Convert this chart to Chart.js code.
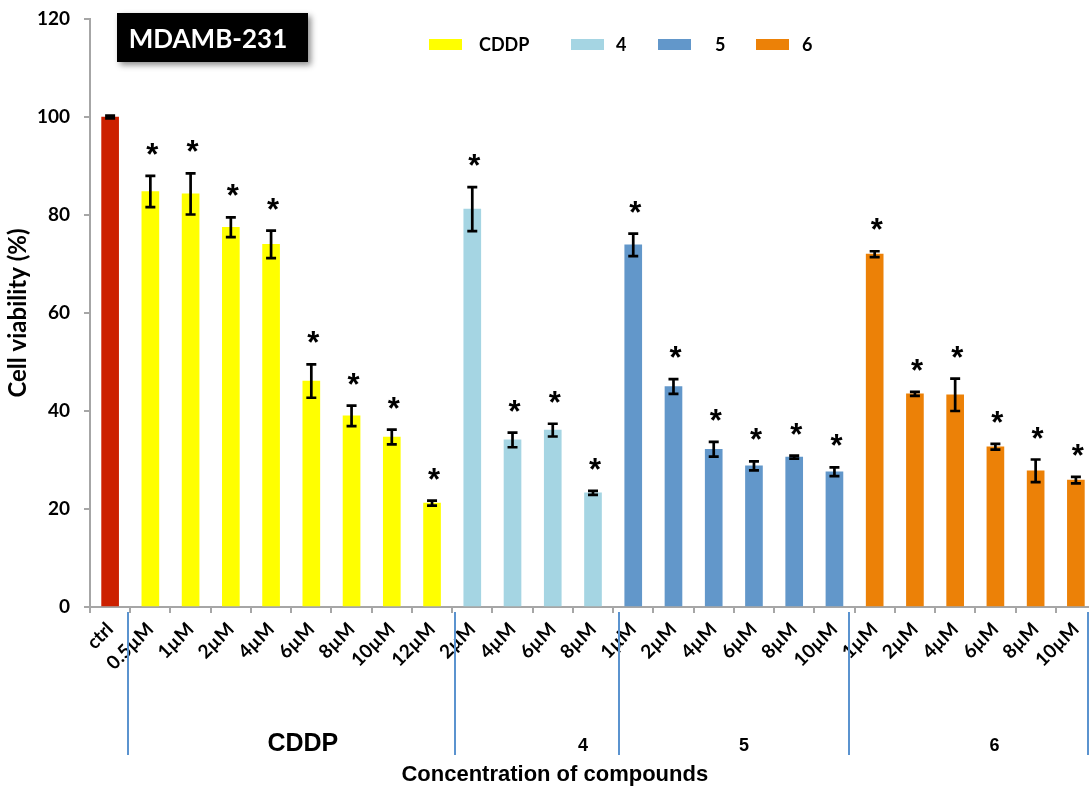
<!DOCTYPE html>
<html><head><meta charset="utf-8">
<script src="https://cdn.jsdelivr.net/npm/chart.js@4/dist/chart.umd.min.js"></script>
<style>
html,body{margin:0;padding:0;overflow:hidden;background:#fff;width:1089px;height:790px}
#wrap{width:1100px;height:790px;position:relative}
</style>
</head><body><div id="wrap"><canvas id="c"></canvas></div>
<script>
// ---- data ----
const categories = ['ctrl','0.5µM','1µM','2µM','4µM','6µM','8µM','10µM','12µM',
  '2µM','4µM','6µM','8µM',
  '1µM','2µM','4µM','6µM','8µM','10µM',
  '1µM','2µM','4µM','6µM','8µM','10µM'];
const ctrlValues = [100];
const ctrlErr    = [0.3];
const cddpValues = [84.8, 84.3, 77.5, 74.0, 46.1, 39.0, 34.7, 21.2];
const cddpErr    = [3.2, 4.2, 2.0, 2.8, 3.4, 2.1, 1.5, 0.5];
const c4Values   = [81.2, 34.1, 36.1, 23.3];
const c4Err      = [4.5, 1.5, 1.3, 0.4];
const c5Values   = [73.9, 45.0, 32.2, 28.8, 30.6, 27.6];
const c5Err      = [2.3, 1.5, 1.5, 0.9, 0.3, 0.9];
const c6Values   = [72.0, 43.5, 43.3, 32.7, 27.8, 25.9];
const c6Err      = [0.6, 0.4, 3.3, 0.6, 2.3, 0.65];
const groupNames = ['CDDP','4','5','6'];
const groupLabelPos = [4.79, 11.75, 15.75, 21.98];   // in category units
const separatorPos  = [0.44, 8.57, 12.64, 18.36, 24.3]; // in category units
const yTickStep = 20, yMax = 120;
const chartTitle = 'MDAMB-231';
const yTitle = 'Cell viability (%)';
const xTitle = 'Concentration of compounds';

// ---- build datasets ----
const groups = [
  {label:'ctrl', values:ctrlValues, err:ctrlErr, color:'#CC2000', legend:false, star:false},
  {label:'CDDP', values:cddpValues, err:cddpErr, color:'#FFFF00', legend:true, star:true},
  {label:'4', values:c4Values, err:c4Err, color:'#A5D5E3', legend:true, star:true},
  {label:'5', values:c5Values, err:c5Err, color:'#6297CA', legend:true, star:true},
  {label:'6', values:c6Values, err:c6Err, color:'#EC8107', legend:true, star:true}
];
let off = 0;
groups.forEach(g => { g.start = off; off += g.values.length; });
const spread = (g, arr) => categories.map((_, i) => (i >= g.start && i < g.start + arr.length) ? arr[i - g.start] : null);
const datasets = groups.map(g => ({
  label: g.label,
  data: spread(g, g.values),
  errors: spread(g, g.err),
  star: g.star,
  showInLegend: g.legend,
  backgroundColor: g.color,
  borderWidth: 0,
  grouped: false,
  barThickness: 17
}));

const FONT = 'Lato';

const annotations = {
  id: 'annotations',
  afterDatasetsDraw(chart) {
    const ctx = chart.ctx, y = chart.scales.y;
    ctx.save();
    chart.data.datasets.forEach((ds, di) => {
      const meta = chart.getDatasetMeta(di);
      meta.data.forEach((el, i) => {
        const v = ds.data[i];
        if (v === null || v === undefined) return;
        const e = ds.errors[i];
        const yt = y.getPixelForValue(v + e), yb = y.getPixelForValue(v - e);
        const x = el.x;
        ctx.strokeStyle = '#000';
        ctx.lineWidth = 2.7;
        ctx.beginPath();
        ctx.moveTo(x, yt); ctx.lineTo(x, yb);
        ctx.moveTo(x - 5, yt); ctx.lineTo(x + 5, yt);
        ctx.moveTo(x - 5, yb); ctx.lineTo(x + 5, yb);
        ctx.stroke();
        if (ds.star) {
          ctx.font = 'bold 31px "Liberation Sans"';
          ctx.fillStyle = '#000';
          ctx.textAlign = 'center';
          ctx.textBaseline = 'alphabetic';
          const m = ctx.measureText('*');
          const h = m.actualBoundingBoxAscent - m.actualBoundingBoxDescent;
          const cy = yt - 17;
          ctx.fillText('*', x + 2, cy + m.actualBoundingBoxAscent - h / 2);
        }
      });
    });
    ctx.restore();
  },
  afterDraw(chart) {
    const ctx = chart.ctx, xs = chart.scales.x;
    ctx.save();
    // title box
    ctx.shadowColor = 'rgba(0,0,0,0.45)';
    ctx.shadowBlur = 6; ctx.shadowOffsetX = 3; ctx.shadowOffsetY = 3;
    ctx.fillStyle = '#000';
    ctx.fillRect(117, 13, 191, 49);
    ctx.shadowColor = 'transparent';
    ctx.fillStyle = '#fff';
    ctx.font = 'bold 26px ' + FONT;
    ctx.textAlign = 'center'; ctx.textBaseline = 'middle';
    ctx.fillText(chartTitle, 208, 40);
    // legend
    const legPos = [[429, 479], [571, 616], [658, 715], [756, 802]];
    let k = 0;
    chart.data.datasets.forEach(ds => {
      if (!ds.showInLegend) return;
      const [sx, tx] = legPos[k++];
      ctx.fillStyle = ds.backgroundColor;
      ctx.fillRect(sx, 39, 33, 11);
      ctx.fillStyle = '#000';
      ctx.font = 'bold 18px ' + FONT;
      ctx.textAlign = 'left'; ctx.textBaseline = 'middle';
      ctx.fillText(ds.label, tx, 45);
    });
    // group separators
    ctx.strokeStyle = '#5B93CF';
    ctx.lineWidth = 2;
    separatorPos.forEach(p => {
      const px = Math.round(xs.getPixelForValue(p));
      ctx.beginPath(); ctx.moveTo(px, 612); ctx.lineTo(px, 755); ctx.stroke();
    });
    // group labels
    ctx.fillStyle = '#000';
    ctx.textAlign = 'center'; ctx.textBaseline = 'middle';
    groupNames.forEach((n, i) => {
      ctx.font = (i === 0 ? 'bold 25px ' : 'bold 18px ') + '"Liberation Sans"';
      ctx.fillText(n, xs.getPixelForValue(groupLabelPos[i]), i === 0 ? 744 : 746);
    });
    // x title
    ctx.font = 'bold 22px "Liberation Sans"';
    ctx.fillText(xTitle, xs.getPixelForValue(11.05), 775);
    ctx.restore();
  }
};

new Chart(document.getElementById('c'), {
  type: 'bar',
  data: { labels: categories, datasets },
  options: {
    responsive: true, maintainAspectRatio: false, animation: false,
    devicePixelRatio: 1,
    layout: { padding: { top: 19, right: 4, left: 0, bottom: 0 } },
    plugins: { legend: { display: false }, tooltip: { enabled: false }, title: { display: false } },
    scales: {
      x: {
        offset: true,
        ticks: { autoSkip: false, maxRotation: 45, minRotation: 45, color: '#000',
                 font: { family: FONT, weight: 'bold', size: 19 }, padding: 5 },
        grid: { display: true, offset: true, drawOnChartArea: false, tickLength: 6, color: '#A6A6A6', lineWidth: 2 },
        border: { color: '#A6A6A6', width: 2 },
        afterFit(s) { s.height = 183; }
      },
      y: {
        min: 0, max: yMax,
        ticks: { stepSize: yTickStep, color: '#000', font: { family: FONT, weight: 'bold', size: 19 }, padding: 14 },
        grid: { display: true, drawOnChartArea: false, tickLength: 6, color: '#A6A6A6', lineWidth: 2 },
        border: { color: '#A6A6A6', width: 2 },
        title: { display: true, text: yTitle, color: '#000', font: { family: FONT, weight: 'bold', size: 24 }, padding: { top: 4, bottom: 0 } },
        afterFit(s) { s.width = 90; s.paddingTop = 0; s.paddingBottom = 0; }
      }
    }
  },
  plugins: [annotations]
});
</script>
</body></html>
